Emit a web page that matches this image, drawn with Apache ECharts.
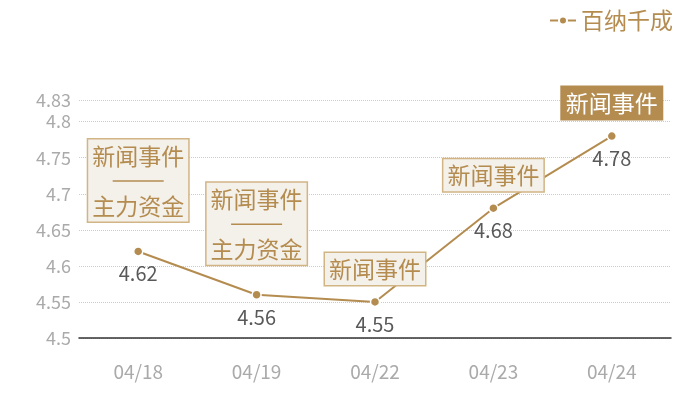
<!DOCTYPE html>
<html>
<head>
<meta charset="utf-8">
<script src="https://cdn.jsdelivr.net/npm/echarts@6/dist/echarts.min.js"></script>
<style>
  html, body { margin: 0; padding: 0; background: #fff; }
  #main { width: 700px; height: 400px; }
</style>
</head>
<body>
<div id="main"></div>
<script>
var dates = ['04/18', '04/19', '04/22', '04/23', '04/24'];
var prices = [4.62, 4.56, 4.55, 4.68, 4.78];
var events = [
  ['新闻事件', '主力资金'],
  ['新闻事件', '主力资金'],
  ['新闻事件'],
  ['新闻事件'],
  ['新闻事件']
];
var seriesName = '百纳千成';

var gold = '#b48c50';
var font = '"Noto Sans CJK SC", "Noto Sans", sans-serif';

var marks = [];
for (var i = 0; i < dates.length; i++) {
  var last = i === dates.length - 1;
  var lbl = { distance: events[i].length > 1 ? 30 : 17 };
  if (last) {
    lbl.color = '#fff';
    lbl.backgroundColor = gold;
    lbl.borderColor = gold;
  }
  marks.push({
    coord: [dates[i], prices[i]],
    value: events[i].join('\n{d| }\n'),
    label: lbl
  });
}

var chart = echarts.init(document.getElementById('main'));
chart.setOption({
  animation: false,
  legend: {
    data: [seriesName],
    right: 22,
    top: 4,
    itemWidth: 26,
    itemHeight: 10,
    textStyle: { color: gold, fontSize: 23, fontFamily: font }
  },
  grid: { left: 79, right: 29, top: 100, bottom: 62 },
  xAxis: {
    type: 'category',
    data: dates,
    axisLine: { lineStyle: { color: '#333', width: 1.5 } },
    axisTick: { show: false },
    axisLabel: { color: '#aaa', fontSize: 19, margin: 24, fontFamily: font }
  },
  yAxis: {
    type: 'value',
    min: 4.5,
    max: 4.83,
    interval: 0.05,
    axisLine: { show: false },
    axisTick: { show: false },
    axisLabel: { color: '#aaa', fontSize: 18, margin: 8, fontFamily: font },
    splitLine: { lineStyle: { color: '#ccc', type: 'dotted' } }
  },
  series: [{
    name: seriesName,
    type: 'line',
    data: prices,
    symbol: 'circle',
    symbolSize: 9,
    lineStyle: { color: gold, width: 2 },
    itemStyle: { color: gold, borderColor: '#fff', borderWidth: 1.5 },
    label: {
      show: true,
      position: 'bottom',
      distance: 7,
      color: '#595959',
      fontSize: 20,
      fontFamily: font
    },
    markPoint: {
      symbol: 'rect',
      symbolSize: 0,
      label: {
        show: true,
        position: 'top',
        distance: 17,
        formatter: function (p) { return p.value; },
        color: gold,
        fontSize: 23,
        lineHeight: 25,
        align: 'center',
        fontFamily: font,
        backgroundColor: '#f4f0ea',
        borderColor: '#d2b584',
        borderWidth: 1.5,
        padding: [4, 4, 3, 4],
        rich: {
          d: {
            width: 51,
            height: 1.5,
            lineHeight: 25,
            fontSize: 4,
            backgroundColor: gold
          }
        }
      },
      data: marks
    }
  }]
});
</script>
</body>
</html>
